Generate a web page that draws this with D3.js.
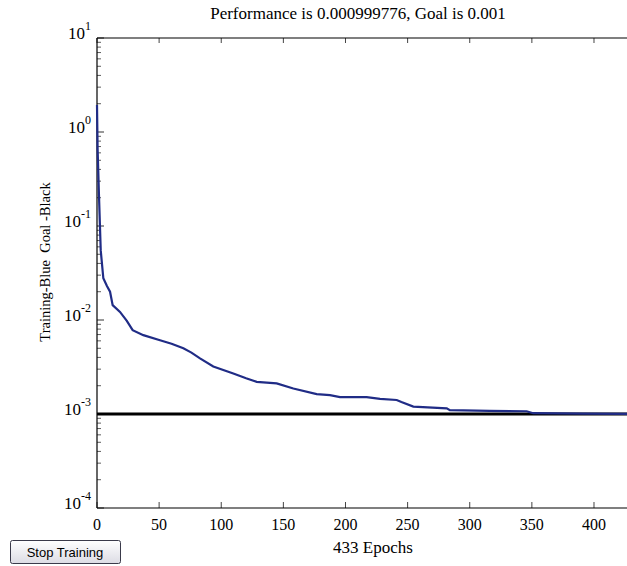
<!DOCTYPE html>
<html lang="en">
<head>
  <meta charset="utf-8">
  <title>Training performance</title>
  <script src="https://d3js.org/d3.v7.min.js"></script>
  <style>
    body { margin: 0; background: #ffffff; }
    svg { display: block; }
    text { font-family: "Liberation Serif", "Times New Roman", serif; fill: #000; }
  </style>
</head>
<body>
  <script>
    // values
    var epochs = [0, 0.5, 1.6, 3, 5.1, 8, 10.5, 12.6, 18.5, 24, 28.7, 37.3, 50.7, 60, 69.5, 76,
      82.9, 93.6, 109.7, 120, 128.5, 144.6, 158, 176.8, 187.5, 195.6, 217, 227.8, 241.2, 245,
      254.6, 281.5, 284, 316, 345.8, 351, 391, 433];
    var perf = [1.94, 0.65, 0.21, 0.055, 0.0278, 0.023, 0.020, 0.0144, 0.0122, 0.0098, 0.0078, 0.0069, 0.0061, 0.0056, 0.0050, 0.0045,
      0.0039, 0.0032, 0.0027, 0.0024, 0.0022, 0.00212, 0.00187, 0.00163, 0.00159, 0.00151, 0.00151, 0.00145, 0.00141, 0.00134,
      0.0012, 0.00115, 0.0011, 0.00108, 0.00107, 0.00102, 0.00101, 0.000999776];
    var goal = 0.001;
    var xTicks = [0, 50, 100, 150, 200, 250, 300, 350, 400];
    var yExps = [-4, -3, -2, -1, 0, 1];
    var titleText = "Performance is 0.000999776, Goal is 0.001";
    var xLabel = "433 Epochs";
    var yLabel = "Training-Blue  Goal -Black";

    var w = 627, h = 566;
    var plotL = 97, plotT = 38, plotB = 508, plotR = 635;

    var svg = d3.select("body").append("svg")
      .attr("width", w)
      .attr("height", h);

    var x = d3.scaleLinear().domain([0, 433]).range([plotL, plotR]);
    var y = d3.scaleLog().domain([1e-4, 1e1]).range([plotB, plotT]);

    // minor ticks on the log axis
    var minor = [];
    yExps.slice(0, -1).forEach(function(e) {
      for (var k = 2; k <= 9; k++) minor.push(k * Math.pow(10, e));
    });

    var g = svg.append("g");

    g.selectAll("line.minor")
      .data(minor)
      .enter().append("line")
      .attr("x1", plotL).attr("x2", plotL + 4)
      .attr("y1", function(d) { return y(d); })
      .attr("y2", function(d) { return y(d); })
      .attr("stroke", "#333").attr("stroke-width", 0.8);

    g.selectAll("line.major")
      .data(yExps)
      .enter().append("line")
      .attr("x1", plotL).attr("x2", plotL + 7)
      .attr("y1", function(d) { return y(Math.pow(10, d)); })
      .attr("y2", function(d) { return y(Math.pow(10, d)); })
      .attr("stroke", "#333");

    // x ticks, bottom and top, inside
    g.selectAll("line.xb")
      .data(xTicks)
      .enter().append("line")
      .attr("x1", function(d) { return x(d); }).attr("x2", function(d) { return x(d); })
      .attr("y1", plotB).attr("y2", plotB - 6)
      .attr("stroke", "#444");
    g.selectAll("line.xt")
      .data(xTicks)
      .enter().append("line")
      .attr("x1", function(d) { return x(d); }).attr("x2", function(d) { return x(d); })
      .attr("y1", plotT).attr("y2", plotT + 5)
      .attr("stroke", "#444");

    // axis box
    g.append("line").attr("x1", plotL).attr("x2", w).attr("y1", plotT).attr("y2", plotT)
      .attr("stroke", "#000").attr("stroke-width", 1.2);
    g.append("line").attr("x1", plotL).attr("x2", w).attr("y1", plotB).attr("y2", plotB)
      .attr("stroke", "#000").attr("stroke-width", 1.2);
    g.append("line").attr("x1", plotL).attr("x2", plotL).attr("y1", plotT).attr("y2", plotB)
      .attr("stroke", "#000").attr("stroke-width", 1.2);

    // goal line
    g.append("line")
      .attr("x1", x(0)).attr("x2", x(433))
      .attr("y1", y(goal)).attr("y2", y(goal))
      .attr("stroke", "#000").attr("stroke-width", 3);

    // training curve
    var line = d3.line()
      .x(function(d, i) { return x(epochs[i]); })
      .y(function(d) { return y(d); });
    g.append("path")
      .datum(perf)
      .attr("d", line)
      .attr("fill", "none")
      .attr("stroke", "#202c86")
      .attr("stroke-width", 2.2);

    // tick labels
    svg.selectAll("text.xt")
      .data(xTicks)
      .enter().append("text")
      .attr("x", function(d) { return x(d); })
      .attr("y", 530)
      .attr("text-anchor", "middle")
      .style("font-size", "16px")
      .text(function(d) { return d; });

    var yl = svg.selectAll("text.yt")
      .data(yExps)
      .enter().append("text")
      .attr("x", 91)
      .attr("y", function(d) { return y(Math.pow(10, d)) + 1; })
      .attr("text-anchor", "end")
      .style("font-size", "17px");
    yl.append("tspan").text("10");
    yl.append("tspan")
      .attr("dy", -9)
      .style("font-size", "12px")
      .text(function(d) { return d; });

    svg.append("text")
      .attr("x", 358).attr("y", 19)
      .attr("text-anchor", "middle")
      .style("font-size", "17px")
      .text(titleText);

    svg.append("text")
      .attr("x", 373).attr("y", 553)
      .attr("text-anchor", "middle")
      .style("font-size", "17px")
      .text(xLabel);

    svg.append("text")
      .attr("transform", "translate(50,262) rotate(-90)")
      .attr("text-anchor", "middle")
      .style("font-size", "14.5px")
      .style("white-space", "pre")
      .attr("xml:space", "preserve")
      .text(yLabel);

    // stop button
    var grad = svg.append("defs").append("linearGradient")
      .attr("id", "btn").attr("x1", 0).attr("x2", 0).attr("y1", 0).attr("y2", 1);
    grad.append("stop").attr("offset", "0%").attr("stop-color", "#ffffff");
    grad.append("stop").attr("offset", "100%").attr("stop-color", "#dcdce4");
    svg.append("rect")
      .attr("x", 10.5).attr("y", 540.5).attr("width", 110).attr("height", 23)
      .attr("rx", 2)
      .attr("fill", "url(#btn)")
      .attr("stroke", "#3a3a4a");
    svg.append("text")
      .attr("x", 65).attr("y", 557)
      .attr("text-anchor", "middle")
      .style("font-family", "'Liberation Sans', Arial, sans-serif")
      .style("font-size", "13px")
      .text("Stop Training");
  </script>
</body>
</html>
